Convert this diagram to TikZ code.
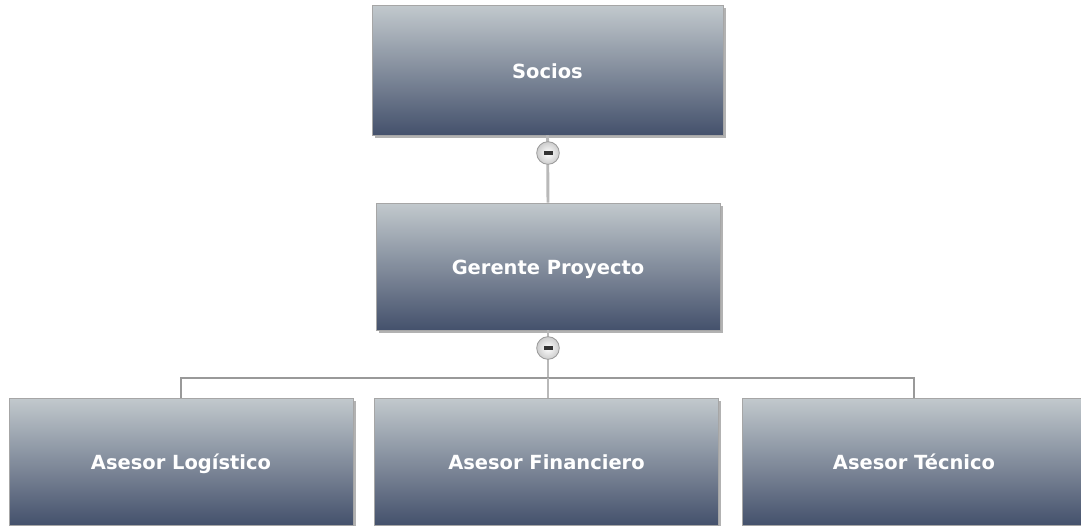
\documentclass[tikz,border=0pt]{standalone}
\usepackage{fontspec}
\setmainfont{DejaVu Sans}
\usetikzlibrary{shadows, positioning, calc}
\definecolor{boxtop}{RGB}{194, 201, 205}
\definecolor{boxbottom}{RGB}{68, 81, 108}
\definecolor{wire}{RGB}{185, 185, 185}

\begin{document}
\begin{tikzpicture}[x=0.75pt, y=-0.75pt,
    role/.style={draw=gray!70, line width=0.6pt, top color=boxtop, bottom color=boxbottom,
        minimum width=258pt, minimum height=95.25pt, inner sep=0pt,
        text height=15pt, text depth=3pt,
        text=white, font=\fontsize{14.6}{16}\selectfont\bfseries,
        drop shadow={shadow xshift=2pt, shadow yshift=-2pt, fill=black, opacity=0.3}},
    toggle/.style={circle, draw=gray!80, line width=0.6pt, inner color=white, outer color=gray!40,
        minimum size=17pt, inner sep=0pt},
    conn/.style={wire, line width=2.2pt},
    bus/.style={gray!80, line width=0.8pt}]
    % page frame
    \useasboundingbox (0,0) rectangle (1081,525);
    \clip (0,0) rectangle (1081,525);

    % Boxes
    \node[role, minimum width=263.25pt, minimum height=97.5pt] (socios) at (547.5, 70) {Socios};
    \node[role] (gerente) at (548, 266.5) {Gerente Proyecto};
    \node[role] (logistico) at (181, 461.5) {Asesor Logístico};
    \node[role] (financiero) at (546.5, 461.5) {Asesor Financiero};
    \node[role] (tecnico) at (914, 461.5) {Asesor Técnico};

    % Connectors
    \coordinate (busmid) at (548, 378);
    \draw[conn] (socios.south) -- (gerente.north);
    \draw[conn] (gerente.south) -- (busmid);
    \draw[bus] (logistico.north) |- (busmid) -| (tecnico.north);
    \draw[conn] (busmid) -- (financiero.north -| busmid);

    % Collapse buttons
    \node[toggle] (toggleA) at (548, 153) {};
    \fill[black!80] ($(toggleA)+(-4.5,-2)$) rectangle ($(toggleA)+(4.5,2)$);
    \node[toggle] (toggleB) at (548, 348) {};
    \fill[black!80] ($(toggleB)+(-4.5,-2)$) rectangle ($(toggleB)+(4.5,2)$);
\end{tikzpicture}
\end{document}
